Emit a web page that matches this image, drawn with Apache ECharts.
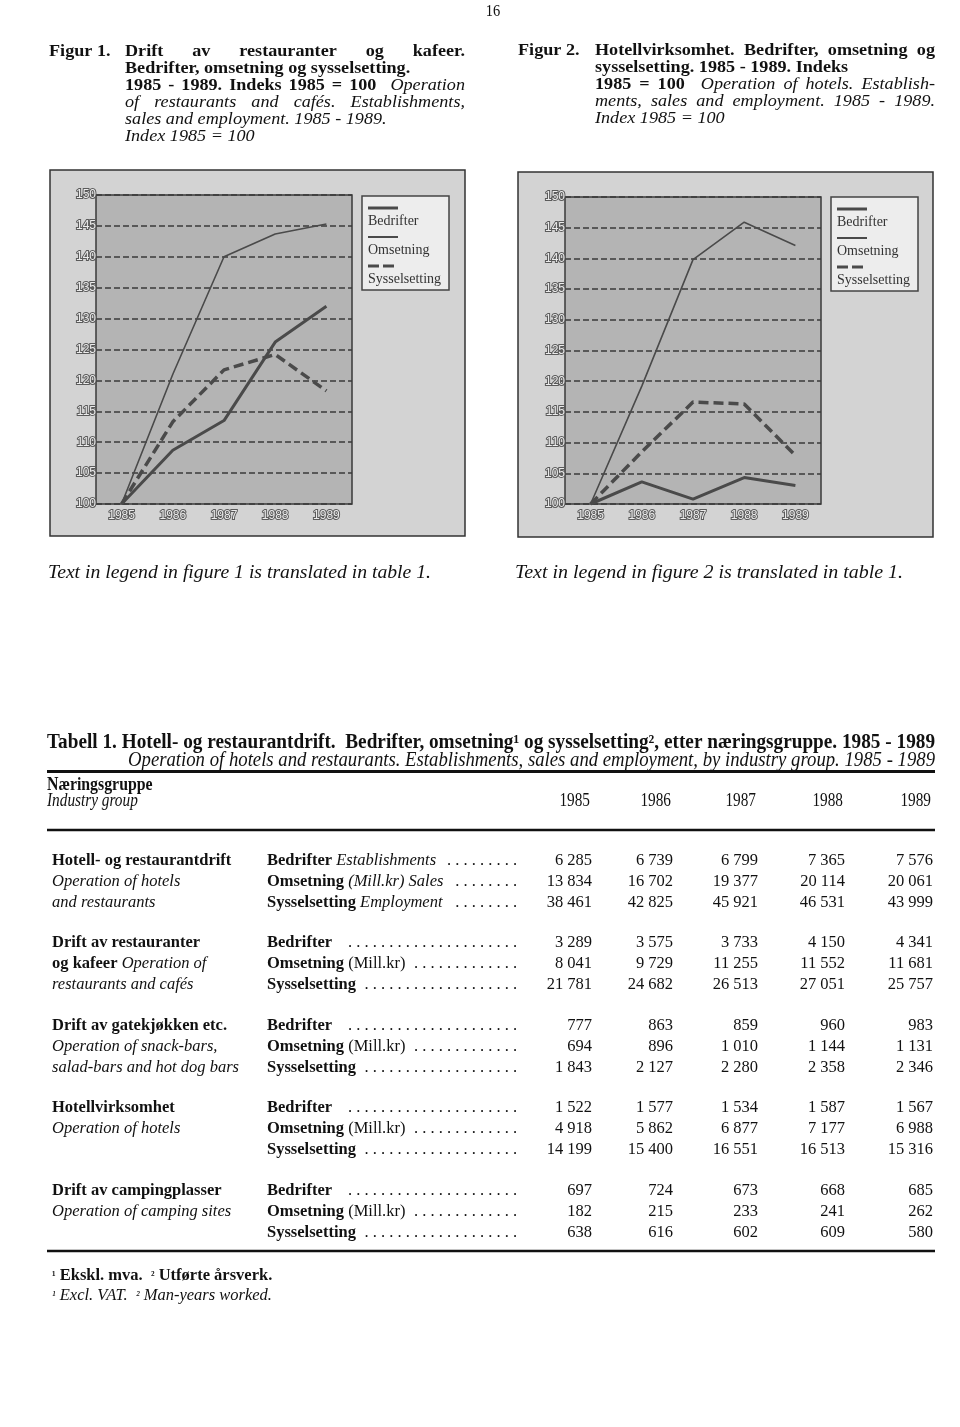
<!DOCTYPE html>
<html><head><meta charset="utf-8">
<script src="https://cdn.jsdelivr.net/npm/echarts/dist/echarts.min.js"></script>
<style>html,body{margin:0;padding:0;background:#fff}#c{width:960px;height:1427px}</style>
</head><body><div id="c"></div><script>
// ---------- DATA ----------
const years = ['1985', '1986', '1987', '1988', '1989'];
const seriesNames = ['Bedrifter', 'Omsetning', 'Sysselsetting'];
// Figure 1: restaurants and cafés, index 1985 = 100
const fig1Bedrifter = [100, 108.7, 113.5, 126.2, 132.0];
const fig1Omsetning = [100, 121.0, 140.0, 143.7, 145.3];
const fig1Sysselsetting = [100, 113.3, 121.7, 124.2, 118.3];
// Figure 2: hotels, index 1985 = 100
const fig2Bedrifter = [100, 103.6, 100.8, 104.3, 103.0];
const fig2Omsetning = [100, 119.2, 139.8, 145.9, 142.1];
const fig2Sysselsetting = [100, 108.5, 116.6, 116.3, 107.9];
// Table 1
const g1Bedrifter = [6285, 6739, 6799, 7365, 7576];
const g1Omsetning = [13834, 16702, 19377, 20114, 20061];
const g1Sysselsetting = [38461, 42825, 45921, 46531, 43999];
const g2Bedrifter = [3289, 3575, 3733, 4150, 4341];
const g2Omsetning = [8041, 9729, 11255, 11552, 11681];
const g2Sysselsetting = [21781, 24682, 26513, 27051, 25757];
const g3Bedrifter = [777, 863, 859, 960, 983];
const g3Omsetning = [694, 896, 1010, 1144, 1131];
const g3Sysselsetting = [1843, 2127, 2280, 2358, 2346];
const g4Bedrifter = [1522, 1577, 1534, 1587, 1567];
const g4Omsetning = [4918, 5862, 6877, 7177, 6988];
const g4Sysselsetting = [14199, 15400, 16551, 16513, 15316];
const g5Bedrifter = [697, 724, 673, 668, 685];
const g5Omsetning = [182, 215, 233, 241, 262];
const g5Sysselsetting = [638, 616, 602, 609, 580];

// ---------- HELPERS ----------
const SERIF = "'Liberation Serif', 'DejaVu Serif', serif";
const ctx = document.createElement('canvas').getContext('2d');
function mw(t, font) { ctx.font = font; return ctx.measureText(t).width; }
const els = [];
function txt(t, x, y, font, o) {
  o = o || {};
  const e = {
    type: 'text', x: x, y: y, z: 20,
    style: {
      text: t, font: font, fill: o.fill || '#111',
      textAlign: o.align || 'left', align: o.align || 'left',
      textVerticalAlign: 'middle', verticalAlign: 'middle'
    }
  };
  if (o.scaleX) { e.scaleX = o.scaleX; }
  els.push(e);
  return e;
}
function fitTxt(t, x, y, font, width, o) {
  const w = mw(t, font);
  o = Object.assign({}, o || {}, { scaleX: width / w });
  return txt(t, x, y, font, o);
}
function wordsLine(words, x0, y, x1, sx) {
  sx = sx || 1;
  const widths = words.map(w => mw(w[0], w[1]) * sx);
  const total = widths.reduce((a, b) => a + b, 0);
  let gap = mw(' ', words[0][1]) * sx;
  if (x1 != null && words.length > 1) gap = (x1 - x0 - total) / (words.length - 1);
  let x = x0;
  words.forEach((w, i) => { if (w[0]) txt(w[0], x, y, w[1], { scaleX: sx }); x += widths[i] + gap; });
}
function segs(list, x, y) {
  list.forEach(s => { txt(s[0], x, y, s[1]); x += mw(s[0], s[1]); });
  return x;
}
function line(x1, y1, x2, y2, w, color, dash) {
  const e = { type: 'line', z: 20, shape: { x1, y1, x2, y2 }, style: { stroke: color || '#111', lineWidth: w } };
  if (dash) e.style.lineDash = dash;
  els.push(e);
}
function rect(x, y, w, h, fill, stroke, lw, z) {
  els.push({ type: 'rect', z: z, shape: { x, y, width: w, height: h }, style: { fill, stroke, lineWidth: lw } });
}
const fmt = n => String(n).replace(/\B(?=(\d{3})+(?!\d))/g, ' ');

// ---------- PAGE TEXT ----------
const TB = "bold 16.5px " + SERIF, TI = "italic 16.5px " + SERIF, TSX = 1.1;
txt('16', 493, 12, "17px " + SERIF, { align: 'center', scaleX: 0.85 });

// Figure 1 title
txt('Figur 1.', 49, 52, TB, { scaleX: TSX });
const f1x0 = 125, f1x1 = 465, lh = 17;
wordsLine([['Drift', TB], ['av', TB], ['restauranter', TB], ['og', TB], ['kafeer.', TB]], f1x0, 52, f1x1, TSX);
wordsLine([['Bedrifter,', TB], ['omsetning', TB], ['og', TB], ['sysselsetting.', TB]], f1x0, 52 + lh, null, TSX);
wordsLine([['1985', TB], ['-', TB], ['1989.', TB], ['Indeks', TB], ['1985', TB], ['=', TB], ['100', TB], ['', TI], ['Operation', TI]], f1x0, 52 + 2 * lh, f1x1, TSX);
wordsLine([['of', TI], ['restaurants', TI], ['and', TI], ['cafés.', TI], ['Establishments,', TI]], f1x0, 52 + 3 * lh, f1x1, TSX);
wordsLine([['sales', TI], ['and', TI], ['employment.', TI], ['1985', TI], ['-', TI], ['1989.', TI]], f1x0, 52 + 4 * lh, null, TSX);
wordsLine([['Index', TI], ['1985', TI], ['=', TI], ['100', TI]], f1x0, 52 + 5 * lh, null, TSX);

// Figure 2 title
txt('Figur 2.', 518, 51, TB, { scaleX: TSX });
const f2x0 = 595, f2x1 = 935;
wordsLine([['Hotellvirksomhet.', TB], ['Bedrifter,', TB], ['omsetning', TB], ['og', TB]], f2x0, 51, f2x1, TSX);
wordsLine([['sysselsetting.', TB], ['1985', TB], ['-', TB], ['1989.', TB], ['Indeks', TB]], f2x0, 51 + lh, null, TSX);
wordsLine([['1985', TB], ['=', TB], ['100', TB], ['', TI], ['Operation', TI], ['of', TI], ['hotels.', TI], ['Establish-', TI]], f2x0, 51 + 2 * lh, f2x1, TSX);
wordsLine([['ments,', TI], ['sales', TI], ['and', TI], ['employment.', TI], ['1985', TI], ['-', TI], ['1989.', TI]], f2x0, 51 + 3 * lh, f2x1, TSX);
wordsLine([['Index', TI], ['1985', TI], ['=', TI], ['100', TI]], f2x0, 51 + 4 * lh, null, TSX);

// captions
fitTxt('Text in legend in figure 1 is translated in table 1.', 48, 573, "italic 19px " + SERIF, 383);
fitTxt('Text in legend in figure 2 is translated in table 1.', 515, 573, "italic 19px " + SERIF, 388);

// ---------- CHART FRAMES + LEGENDS ----------
const lineStyles = [
  { width: 3, type: 'solid' },
  { width: 1.6, type: 'solid' },
  { width: 3.5, type: [10, 5] }
];
const LINE_COLOR = '#4a4a4a';
rect(50, 170, 415, 366, '#d3d3d3', '#333', 1.5, -5);
rect(518, 172, 415, 365, '#d3d3d3', '#333', 1.5, -5);
function legendBox(x, y) {
  rect(x, y, 87, 94, '#ededed', '#444', 1.5, 15);
  seriesNames.forEach((n, i) => {
    const ly = y + 12 + i * 29;
    const ls = lineStyles[i];
    line(x + 6, ly, x + 36, ly, ls.width === 1.6 ? 2 : 3, LINE_COLOR, Array.isArray(ls.type) ? [11, 4] : null);
    txt(n, x + 6, ly + 13, "14px " + SERIF, { fill: '#333' });
  });
}
legendBox(362, 196);
legendBox(831, 197);

// ---------- TABLE ----------
const TAB_B = "bold 16.5px " + SERIF, TAB_I = "italic 16.5px " + SERIF, TAB_R = "16.5px " + SERIF;
fitTxt('Tabell 1. Hotell- og restaurantdrift.  Bedrifter, omsetning¹ og sysselsetting², etter næringsgruppe. 1985 - 1989',
  47, 743, "bold 20px " + SERIF, 888);
fitTxt('Operation of hotels and restaurants. Establishments, sales and employment, by industry group. 1985 - 1989',
  128, 761, "italic 20px " + SERIF, 807);
line(47, 771.5, 935, 771.5, 3);
txt('Næringsgruppe', 47, 785, "bold 18px " + SERIF, { scaleX: 0.88 });
txt('Industry group', 47, 801, "italic 18px " + SERIF, { scaleX: 0.85 });
const colRight = [592, 673, 758, 845, 933];
years.forEach((y, i) => txt(y, colRight[i] - 2, 801, "18px " + SERIF, { align: 'right', scaleX: 0.85 }));
line(47, 830, 935, 830, 2.5);

const groups = [
  { y: 861, label: [[['Hotell- og restaurantdrift', TAB_B]], [['Operation of hotels', TAB_I]], [['and restaurants', TAB_I]]],
    rows: [[['Bedrifter ', TAB_B], ['Establishments', TAB_I]], [['Omsetning ', TAB_B], ['(Mill.kr) Sales', TAB_I]], [['Sysselsetting ', TAB_B], ['Employment', TAB_I]]],
    vals: [g1Bedrifter, g1Omsetning, g1Sysselsetting] },
  { y: 943, label: [[['Drift av restauranter', TAB_B]], [['og kafeer ', TAB_B], ['Operation of', TAB_I]], [['restaurants and cafés', TAB_I]]],
    vals: [g2Bedrifter, g2Omsetning, g2Sysselsetting] },
  { y: 1026, label: [[['Drift av gatekjøkken etc.', TAB_B]], [['Operation of snack-bars,', TAB_I]], [['salad-bars and hot dog bars', TAB_I]]],
    vals: [g3Bedrifter, g3Omsetning, g3Sysselsetting] },
  { y: 1108, label: [[['Hotellvirksomhet', TAB_B]], [['Operation of hotels', TAB_I]]],
    vals: [g4Bedrifter, g4Omsetning, g4Sysselsetting] },
  { y: 1191, label: [[['Drift av campingplasser', TAB_B]], [['Operation of camping sites', TAB_I]]],
    vals: [g5Bedrifter, g5Omsetning, g5Sysselsetting] }
];
const defaultRows = [[['Bedrifter', TAB_B]], [['Omsetning ', TAB_B], ['(Mill.kr)', TAB_R]], [['Sysselsetting', TAB_B]]];
const rowStep = 20.7;
groups.forEach(g => {
  g.label.forEach((l, i) => segs(l, 52, g.y + i * rowStep));
  const rows = g.rows || defaultRows;
  rows.forEach((r, i) => {
    const yy = g.y + i * rowStep;
    const end = segs(r, 267, yy);
    const dotW = mw(' .', TAB_R);
    const n = Math.floor((517 - end - 4) / dotW);
    if (n > 0) txt(' .'.repeat(n), 517, yy, TAB_R, { align: 'right' });
    g.vals[i].forEach((v, k) => txt(fmt(v), colRight[k], yy, TAB_R, { align: 'right' }));
  });
});
line(47, 1251, 935, 1251, 2.5);
segs([['¹', "bold 12px " + SERIF], [' Ekskl. mva.  ', "bold 16.5px " + SERIF], ['²', "bold 12px " + SERIF], [' Utførte årsverk.', "bold 16.5px " + SERIF]], 52, 1276);
segs([['¹', "italic 12px " + SERIF], [' Excl. VAT.  ', "italic 16.5px " + SERIF], ['²', "italic 12px " + SERIF], [' Man-years worked.', "italic 16.5px " + SERIF]], 52, 1296);

// ---------- ECHARTS OPTION ----------
const axisLabelStyle = {
  color: '#ececec', fontFamily: "'Liberation Sans', Arial, sans-serif", fontSize: 12,
  textBorderColor: '#5a5a5a', textBorderWidth: 2
};
function xAx(gi) {
  return {
    type: 'category', gridIndex: gi, data: years, boundaryGap: true,
    axisLine: { show: false }, axisTick: { show: false },
    axisLabel: Object.assign({ margin: 6 }, axisLabelStyle)
  };
}
function yAx(gi) {
  return {
    type: 'value', gridIndex: gi, min: 100, max: 150, interval: 5,
    axisLine: { show: false },
    axisTick: { show: true, length: 5, lineStyle: { color: '#3a3a3a', width: 1.5 } },
    axisLabel: Object.assign({ margin: 0 }, axisLabelStyle),
    splitLine: { show: true, lineStyle: { color: '#3a3a3a', width: 1.6, type: [6, 3] } }
  };
}
function mk(gi, data) {
  return data.map((d, i) => ({
    name: seriesNames[i], type: 'line', xAxisIndex: gi, yAxisIndex: gi, data: d,
    symbol: 'none', silent: true, animation: false, z: 5,
    lineStyle: { color: LINE_COLOR, width: lineStyles[i].width, type: lineStyles[i].type }
  }));
}
const option = {
  backgroundColor: '#ffffff',
  animation: false,
  grid: [
    { left: 96, top: 195, width: 256, height: 309, show: true, backgroundColor: '#b4b4b4', borderColor: '#3a3a3a', borderWidth: 1.5 },
    { left: 565, top: 197, width: 256, height: 307, show: true, backgroundColor: '#b4b4b4', borderColor: '#3a3a3a', borderWidth: 1.5 }
  ],
  xAxis: [xAx(0), xAx(1)],
  yAxis: [yAx(0), yAx(1)],
  series: [].concat(
    mk(0, [fig1Bedrifter, fig1Omsetning, fig1Sysselsetting]),
    mk(1, [fig2Bedrifter, fig2Omsetning, fig2Sysselsetting])
  ),
  graphic: { elements: els }
};
const chart = echarts.init(document.getElementById('c'), null, { renderer: 'canvas' });
chart.setOption(option);
</script></body></html>
